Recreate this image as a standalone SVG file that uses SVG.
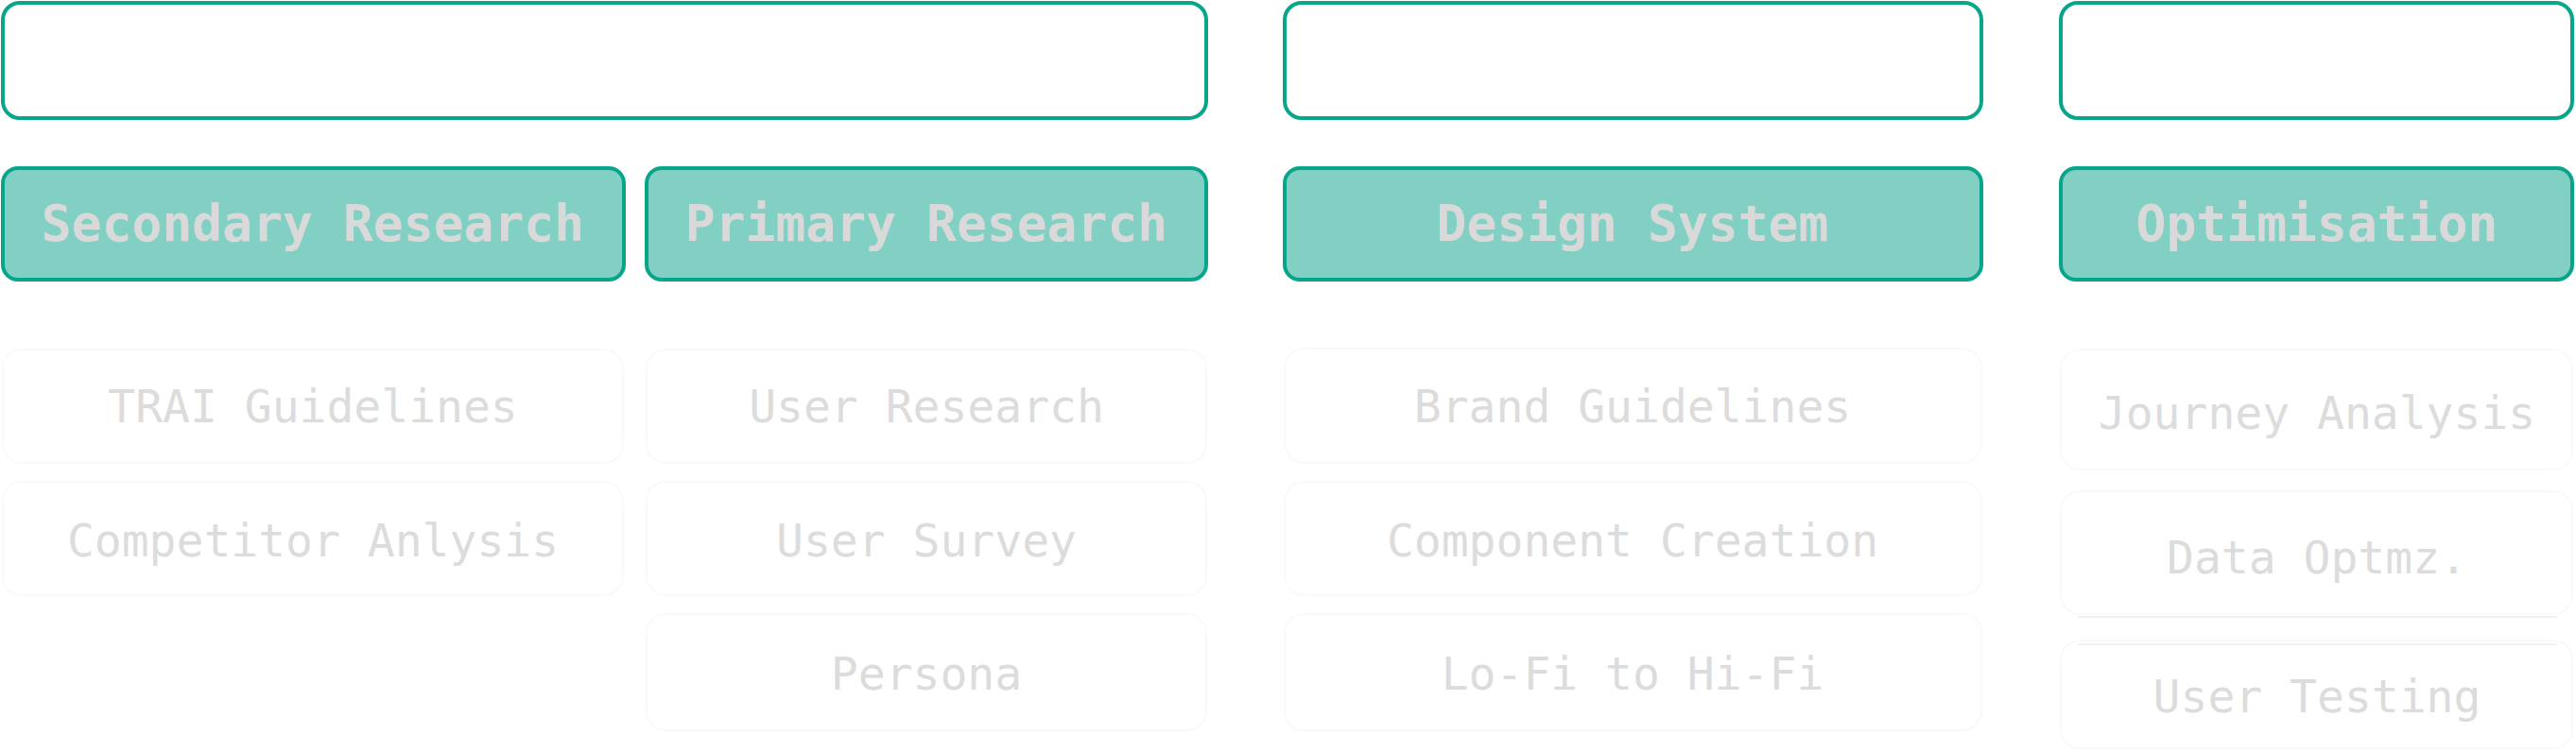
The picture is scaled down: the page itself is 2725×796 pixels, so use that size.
<svg xmlns="http://www.w3.org/2000/svg" width="2725" height="796" viewBox="0 0 2725 796">
<style>
.phase{fill:#ffffff;stroke:#07a68b;stroke-width:4}
.phase-t{fill:#ffffff;font-family:"DejaVu Sans Mono","Liberation Mono",monospace;font-weight:bold;font-size:55px;text-anchor:middle}
.cat{fill:#82d0c3;stroke:#07a68b;stroke-width:4}
.cat-t{fill:#d9d9d9;font-family:"DejaVu Sans Mono","Liberation Mono",monospace;font-weight:bold;font-size:53px;text-anchor:middle}
.item{fill:#ffffff;stroke:#f8f8f8;stroke-width:1.5}
.item-t{fill:#dcdcdc;font-family:"DejaVu Sans Mono","Liberation Mono",monospace;font-size:48px;text-anchor:middle}
.sep{stroke:#f0f0f0;stroke-width:2}
</style>
<rect width="2725" height="796" fill="#ffffff"/>
<g id="phase-discover"><rect class="phase" x="3" y="3" width="1273" height="122" rx="18"/><text class="phase-t" x="639" y="85">DISCOVER</text></g>
<g id="phase-combine"><rect class="phase" x="1359" y="3" width="737" height="122" rx="18"/><text class="phase-t" x="1728" y="85">COMBINE</text></g>
<g id="phase-evolve"><rect class="phase" x="2180" y="3" width="541" height="122" rx="18"/><text class="phase-t" x="2451" y="85">EVOLVE</text></g>

<g id="cat-secondary"><rect class="cat" x="3" y="178" width="657" height="118" rx="16"/><text class="cat-t" x="331" y="255">Secondary Research</text></g>
<g id="cat-primary"><rect class="cat" x="684" y="178" width="592" height="118" rx="16"/><text class="cat-t" x="980" y="255">Primary Research</text></g>
<g id="cat-design"><rect class="cat" x="1359" y="178" width="737" height="118" rx="16"/><text class="cat-t" x="1727" y="255">Design System</text></g>
<g id="cat-optimisation"><rect class="cat" x="2180" y="178" width="541" height="118" rx="16"/><text class="cat-t" x="2451" y="255">Optimisation</text></g>

<g id="item-trai"><rect class="item" x="3" y="370" width="656" height="120" rx="20"/><text class="item-t" x="331" y="447">TRAI Guidelines</text></g>
<g id="item-competitor"><rect class="item" x="3" y="510" width="656" height="120" rx="20"/><text class="item-t" x="331" y="589">Competitor Anlysis</text></g>

<g id="item-user-research"><rect class="item" x="684" y="370" width="592" height="120" rx="20"/><text class="item-t" x="980" y="447">User Research</text></g>
<g id="item-user-survey"><rect class="item" x="684" y="510" width="592" height="120" rx="20"/><text class="item-t" x="980" y="589">User Survey</text></g>
<g id="item-persona"><rect class="item" x="684" y="650" width="592" height="123" rx="20"/><text class="item-t" x="980" y="730">Persona</text></g>

<g id="item-brand"><rect class="item" x="1359" y="369" width="737" height="121" rx="20"/><text class="item-t" x="1727" y="447">Brand Guidelines</text></g>
<g id="item-component"><rect class="item" x="1359" y="510" width="737" height="120" rx="20"/><text class="item-t" x="1727" y="589">Component Creation</text></g>
<g id="item-lofi"><rect class="item" x="1359" y="650" width="737" height="123" rx="20"/><text class="item-t" x="1727" y="730">Lo-Fi to Hi-Fi</text></g>

<g id="item-journey"><rect class="item" x="2180" y="370" width="541" height="127" rx="20"/><text class="item-t" x="2451" y="454">Journey Analysis</text></g>
<g id="item-data"><rect class="item" x="2180" y="520" width="541" height="130" rx="20"/><line class="sep" x1="2198" y1="653" x2="2705" y2="653"/><text class="item-t" x="2451" y="607">Data Optmz.</text></g>
<g id="item-testing"><rect class="item" x="2180" y="678" width="541" height="114" rx="20"/><line class="sep" x1="2198" y1="682" x2="2705" y2="682"/><text class="item-t" x="2451" y="754">User Testing</text></g>

<g id="connectors"></g>
</svg>
